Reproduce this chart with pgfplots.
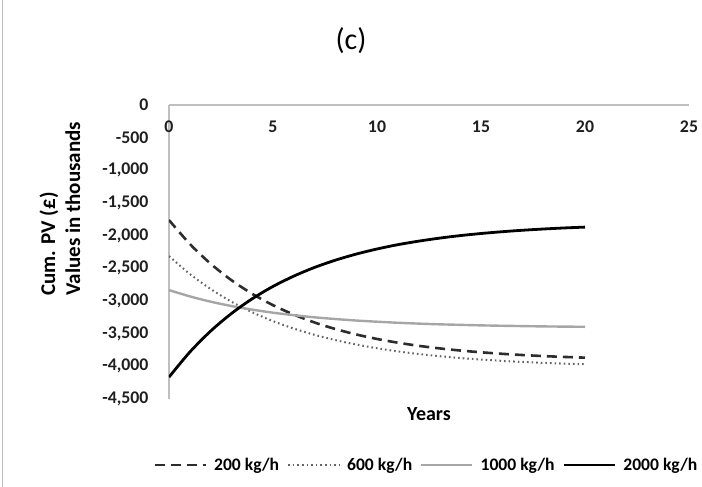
\documentclass[border=0pt]{standalone}
\usepackage{fontspec}
\setmainfont{Carlito}
\usepackage{pgfplots}
\pgfplotsset{compat=1.18}
\definecolor{axgray}{RGB}{191,191,191}
\definecolor{dashc}{RGB}{45,45,45}
\definecolor{dotc}{RGB}{100,100,100}
\definecolor{midgray}{RGB}{166,166,166}

\pgfplotstableread{
t  a200  a600  a1000  a2000
0  -1761 -2312 -2833 -4165
1  -2126 -2586 -2929 -3782
2  -2429 -2816 -3010 -3461
3  -2681 -3010 -3077 -3192
4  -2890 -3172 -3132 -2966
5  -3064 -3308 -3179 -2777
6  -3208 -3422 -3217 -2619
7  -3329 -3518 -3250 -2486
8  -3429 -3599 -3276 -2375
9  -3512 -3666 -3299 -2282
10 -3581 -3723 -3317 -2204
11 -3638 -3771 -3333 -2138
12 -3686 -3811 -3346 -2084
13 -3725 -3844 -3357 -2038
14 -3758 -3873 -3365 -1999
15 -3785 -3896 -3373 -1967
16 -3808 -3916 -3379 -1940
17 -3827 -3933 -3384 -1917
18 -3843 -3947 -3389 -1898
19 -3856 -3959 -3392 -1882
20 -3867 -3968 -3395 -1869
}\datatable

\begin{document}
\begin{tikzpicture}
\path[use as bounding box] (-169bp,-88bp) rectangle (533bp,399bp);
\draw[axgray, line width=1bp] (-166bp,-88bp) -- (-166bp,399bp);
\begin{axis}[
  at={(0,0)}, anchor=south west,
  scale only axis,
  width=520bp, height=294bp,
  xmin=0, xmax=25, ymin=-4500, ymax=0,
  axis x line=top, axis y line=left,
  axis line style={-, draw=axgray, line width=1.3bp},
  major tick length=0pt,
  xtick={0,5,10,15,20,25},
  xticklabels={0,5,10,15,20,25},
  ytick={0,-500,-1000,-1500,-2000,-2500,-3000,-3500,-4000,-4500},
  yticklabels={0,-500,{-1,000},{-1,500},{-2,000},{-2,500},{-3,000},{-3,500},{-4,000},{-4,500}},
  tick label style={font=\fontsize{17.8bp}{20bp}\selectfont\bfseries, color=black!88},
  xticklabel style={anchor=center, yshift=-22bp},
  yticklabel style={anchor=east, xshift=-17bp},
  xlabel={Years},
  xlabel style={at={(axis description cs:0.5,-0.051)}, anchor=center, font=\fontsize{20bp}{22bp}\selectfont\bfseries},
  ylabel={Cum. PV (£)\\Values in thousands},
  ylabel style={at={(axis description cs:-0.2096,0.647)}, anchor=center, align=left, font=\fontsize{21bp}{25bp}\selectfont\bfseries},
  title={(c)},
  title style={at={(axis description cs:0.35,1.20)}, anchor=center, font=\fontsize{30bp}{32bp}\selectfont},
  legend columns=4,
  legend style={at={(axis description cs:0.496,-0.2245)}, anchor=center, draw=none, fill=none,
    font=\fontsize{17.6bp}{20bp}\selectfont\bfseries,
    nodes={inner sep=3bp},
    /tikz/every odd column/.append style={column sep=4bp},
    /tikz/every even column/.append style={column sep=5bp}},
  legend image code/.code={\draw[#1] (0bp,0bp) -- (51bp,0bp);},
]
\addplot[dashc, line width=2.6bp, dash pattern=on 10bp off 6bp, smooth] table[x=t,y=a200] {\datatable};
\addlegendentry{200 kg/h}
\addplot[dotc, line width=2bp, dash pattern=on 1.6bp off 3bp, smooth] table[x=t,y=a600] {\datatable};
\addlegendentry{600 kg/h}
\addplot[midgray, line width=2.4bp, smooth] table[x=t,y=a1000] {\datatable};
\addlegendentry{1000 kg/h}
\addplot[black, line width=2.8bp, smooth] table[x=t,y=a2000] {\datatable};
\addlegendentry{2000 kg/h}
\end{axis}
\end{tikzpicture}
\end{document}
